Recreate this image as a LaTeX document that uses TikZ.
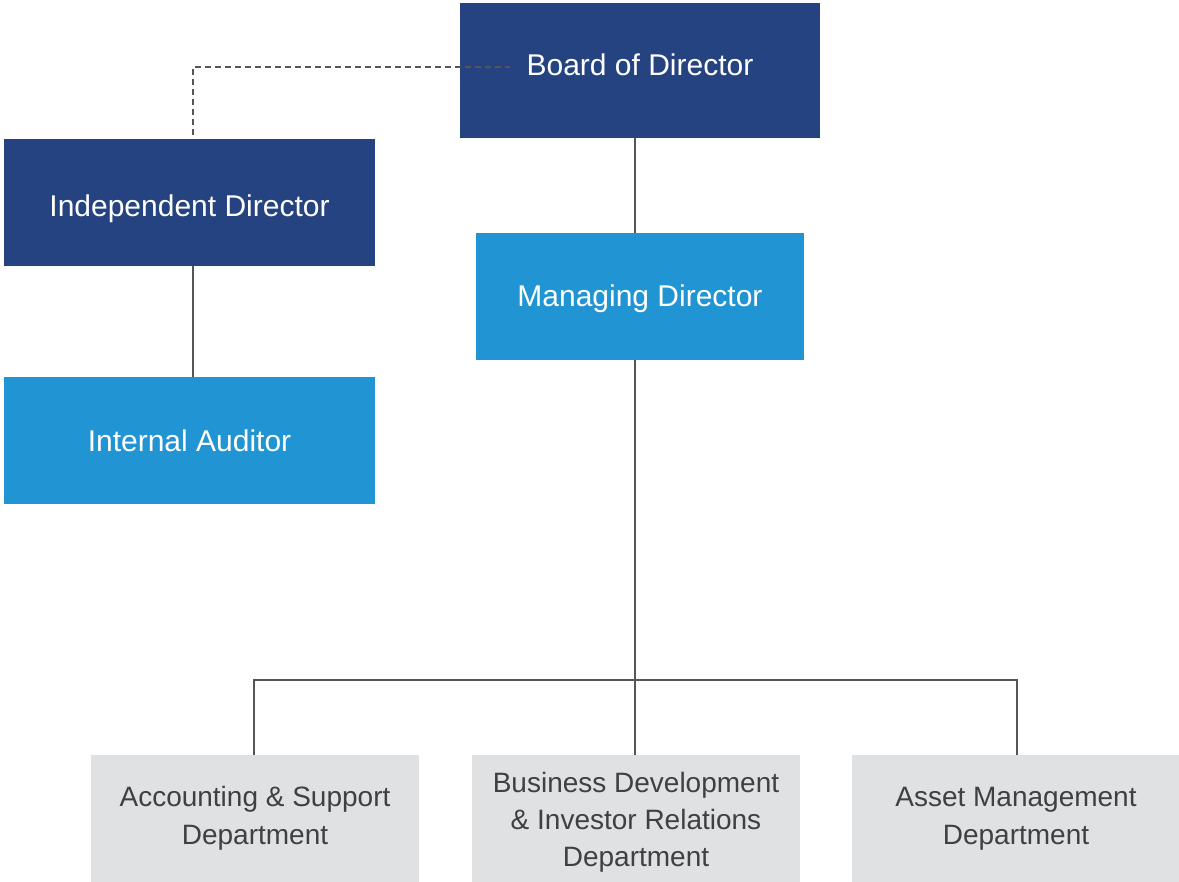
\documentclass[tikz,border=0pt]{standalone}
\usepackage{fontspec}
\setmainfont{Liberation Sans}
\usepackage{tikz}
\usetikzlibrary{positioning}
\usetikzlibrary{calc}

\definecolor{NavyBox}{HTML}{264381}
\definecolor{SkyBox}{HTML}{2194D3}
\definecolor{GreyBox}{HTML}{E0E1E3}
\definecolor{GreyText}{HTML}{404040}
\definecolor{LinkGrey}{HTML}{555555}

% move a label up/down inside its box, box size unchanged
\newcommand{\liftby}[2]{\raisebox{#1}[\height][\depth]{#2}}

\begin{document}
\begin{tikzpicture}[x=1pt,y=-1pt,
  navybox/.style={rectangle,fill=NavyBox,text=white,inner sep=0pt,minimum height=127pt,font=\fontsize{30}{36}\selectfont},
  skybox/.style={rectangle,fill=SkyBox,text=white,inner sep=0pt,minimum height=127pt,font=\fontsize{30}{36}\selectfont},
  deptbox/.style={rectangle,fill=GreyBox,text=GreyText,inner sep=0pt,minimum width=328pt,minimum height=127pt,align=center,font=\fontsize{28}{38}\selectfont},
  link/.style={line width=1.3pt,color=LinkGrey}]
\useasboundingbox (0,0) rectangle (1179,882);

% top level
\node[navybox,minimum width=360pt,minimum height=135pt] (board) at (640,70.5) {\liftby{6pt}{Board of Director}};
\node[navybox,minimum width=371pt] (indep) at (189.5,202.5) {\liftby{-6pt}{Independent Director}};
\node[skybox,minimum width=328pt] (md) at (640,296.5) {\liftby{-2pt}{Managing Director}};
\node[skybox,minimum width=371pt] (audit) at (189.5,440.5) {Internal Auditor};

% departments
\node[deptbox] (acct) at (255,818.5) {Accounting \& Support\\Department};
\node[deptbox,font=\fontsize{28}{37}\selectfont] (bizdev) at (636,818.5) {\rule{0pt}{28.5pt}Business Development\\\& Investor Relations\\Department};
\node[deptbox] (asset) at (1016,818.5) {Asset Management\\Department};

\coordinate (bus) at (635,680);

% connectors
\draw[link,dash pattern=on 6pt off 4pt] ([xshift=3.5pt,yshift=4pt]indep.north) |- ([xshift=50pt,yshift=3.5pt]board.west);
\draw[link] ([xshift=3.5pt]indep.south) -- ([xshift=3.5pt]audit.north);
\draw[link] (board.south -| bus) -- (md.north -| bus);
\draw[link] (md.south -| bus) -- (bus) -- (bizdev.north -| bus);
\draw[link] ([xshift=-1pt]acct.north) |- (bus) -| ([xshift=1pt]asset.north);
\end{tikzpicture}
\end{document}
